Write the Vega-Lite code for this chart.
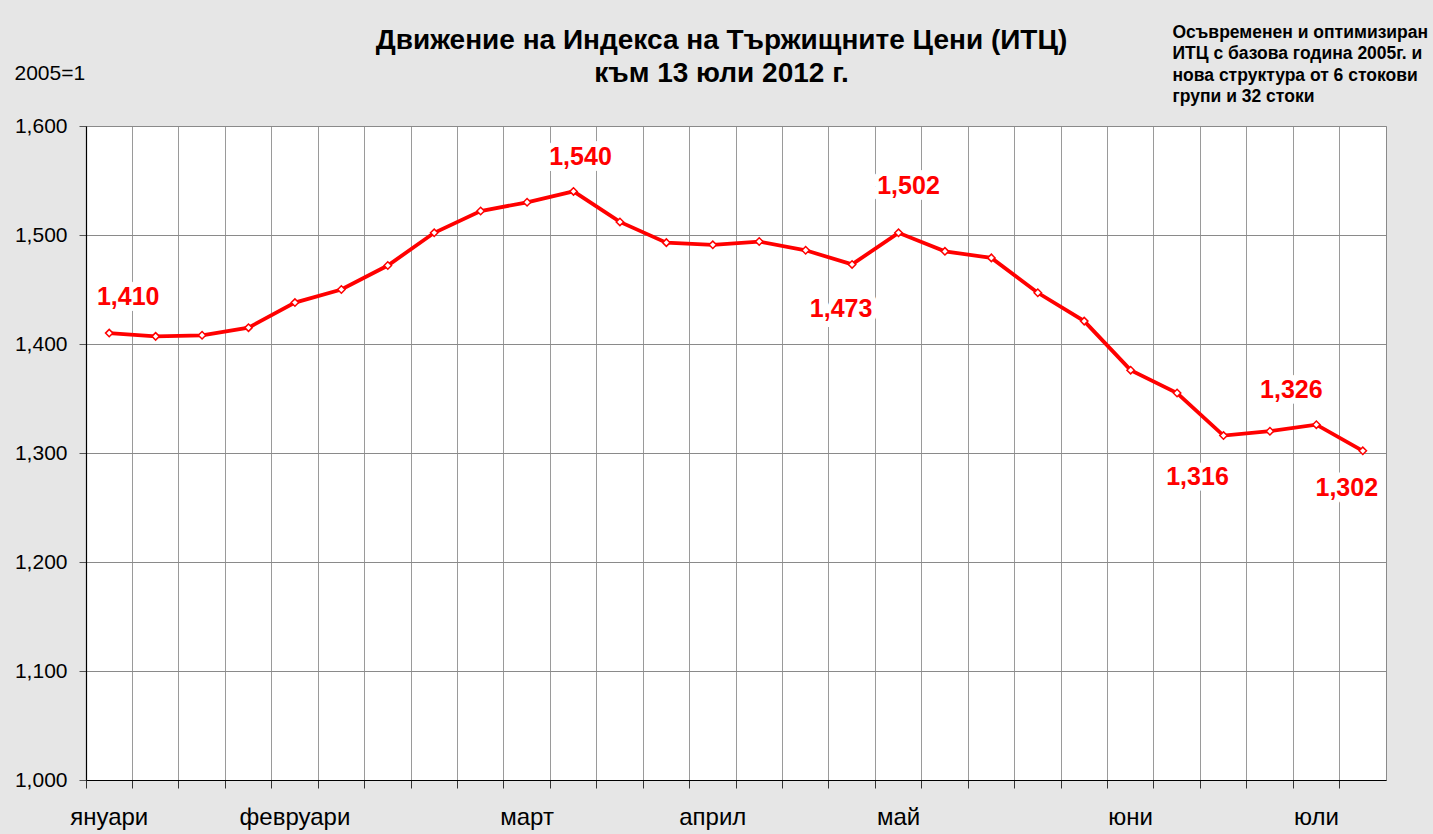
{
  "$schema": "https://vega.github.io/schema/vega-lite/v6.json",
  "autosize": {"type": "none"},
  "padding": {"left": 86, "top": 126, "right": 47, "bottom": 54},
  "width": 1300,
  "height": 654,
  "background": "#e6e6e6",
  "config": {
    "font": "Liberation Sans",
    "view": {"fill": "white", "stroke": "#8a8a8a", "strokeWidth": 1}
  },
  "data": {
    "values": [
      {"w": 1, "v": 1.410}, {"w": 2, "v": 1.407}, {"w": 3, "v": 1.408}, {"w": 4, "v": 1.415},
      {"w": 5, "v": 1.438}, {"w": 6, "v": 1.450}, {"w": 7, "v": 1.472}, {"w": 8, "v": 1.502},
      {"w": 9, "v": 1.522}, {"w": 10, "v": 1.530}, {"w": 11, "v": 1.540}, {"w": 12, "v": 1.512},
      {"w": 13, "v": 1.493}, {"w": 14, "v": 1.491}, {"w": 15, "v": 1.494}, {"w": 16, "v": 1.486},
      {"w": 17, "v": 1.473}, {"w": 18, "v": 1.502}, {"w": 19, "v": 1.485}, {"w": 20, "v": 1.479},
      {"w": 21, "v": 1.447}, {"w": 22, "v": 1.421}, {"w": 23, "v": 1.376}, {"w": 24, "v": 1.355},
      {"w": 25, "v": 1.316}, {"w": 26, "v": 1.320}, {"w": 27, "v": 1.326}, {"w": 28, "v": 1.302}
    ]
  },
  "transform": [{"calculate": "replace(format(datum.v, '.3f'), '.', ',')", "as": "lbl"}],
  "resolve": {"axis": {"x": "independent", "y": "independent"}},
  "layer": [
    {
      "mark": {"type": "line", "color": "#ff0000", "strokeWidth": 3.8},
      "encoding": {
        "x": {
          "field": "w", "type": "ordinal",
          "scale": {"type": "band", "paddingInner": 0, "paddingOuter": 0},
          "axis": {
            "orient": "bottom", "title": null, "bandPosition": 0,
            "grid": true, "gridColor": "#9a9a9a", "gridWidth": 1,
            "domainColor": "#000000", "domainWidth": 1.2,
            "ticks": true, "tickColor": "#333333", "tickSize": 8,
            "labelAngle": 0, "labelPadding": 17,
            "labelFontSize": 24, "labelColor": "#000000", "labelOverlap": false,
            "labelExpr": "datum.value == 1 ? 'януари' : datum.value == 5 ? 'февруари' : datum.value == 10 ? 'март' : datum.value == 14 ? 'април' : datum.value == 18 ? 'май' : datum.value == 23 ? 'юни' : datum.value == 27 ? 'юли' : ''"
          }
        },
        "y": {
          "field": "v", "type": "quantitative",
          "scale": {"domain": [1.0, 1.6], "nice": false, "zero": false},
          "axis": {
            "orient": "left",
            "values": [1.0, 1.1, 1.2, 1.3, 1.4, 1.5, 1.6],
            "grid": true, "gridColor": "#8a8a8a", "gridWidth": 1,
            "domainColor": "#000000", "domainWidth": 1.2,
            "tickColor": "#555555", "tickSize": 7,
            "labelFontSize": 21, "labelColor": "#000000", "labelPadding": 12,
            "labelExpr": "replace(format(datum.value, '.3f'), '.', ',')",
            "title": "2005=1", "titleAngle": 0, "titleAlign": "left", "titleBaseline": "middle",
            "titleX": -72, "titleY": -53, "titleFontSize": 21, "titleFontWeight": "normal", "titleColor": "#000000"
          }
        }
      }
    },
    {
      "mark": {"type": "point", "shape": "diamond", "filled": true, "fill": "white", "stroke": "#ff0000", "strokeWidth": 1.5, "size": 55, "opacity": 1},
      "encoding": {
        "x": {
          "field": "w", "type": "ordinal",
          "axis": {
            "orient": "top", "labels": false, "ticks": false, "domain": false, "grid": false,
            "title": ["Движение на Индекса на Тържищните Цени (ИТЦ)", "към 13 юли 2012 г."],
            "titleAngle": 0, "titleAlign": "center", "titleBaseline": "middle",
            "titleX": 635, "titleY": -86, "titleLineHeight": 33,
            "titleFontSize": 28, "titleFontWeight": "bold", "titleColor": "#000000"
          }
        },
        "y": {
          "field": "v", "type": "quantitative",
          "axis": {
            "orient": "right", "labels": false, "ticks": false, "domain": false, "grid": false,
            "title": ["Осъвременен и оптимизиран", "ИТЦ с базова година 2005г. и", "нова структура от 6 стокови", "групи и 32 стоки"],
            "titleAngle": 0, "titleAlign": "left", "titleBaseline": "middle",
            "titleX": -214, "titleY": -94, "titleLineHeight": 21.5,
            "titleFontSize": 17.5, "titleFontWeight": "bold", "titleColor": "#000000"
          }
        }
      }
    },
    {
      "transform": [{"filter": "datum.w == 1"}],
      "encoding": {"x": {"field": "w", "type": "ordinal", "axis": null}, "y": {"field": "v", "type": "quantitative", "axis": null}, "text": {"field": "lbl"}},
      "layer": [
        {"mark": {"type": "text", "dx": 19, "dy": -36, "fontSize": 25, "fontWeight": "bold", "fill": "white", "stroke": "white", "strokeWidth": 12, "strokeJoin": "round"}},
        {"mark": {"type": "text", "dx": 19, "dy": -36, "fontSize": 25, "fontWeight": "bold", "fill": "#ff0000"}}
      ]
    },
    {
      "transform": [{"filter": "datum.w == 11"}],
      "encoding": {"x": {"field": "w", "type": "ordinal", "axis": null}, "y": {"field": "v", "type": "quantitative", "axis": null}, "text": {"field": "lbl"}},
      "layer": [
        {"mark": {"type": "text", "dx": 7, "dy": -34, "fontSize": 25, "fontWeight": "bold", "fill": "white", "stroke": "white", "strokeWidth": 12, "strokeJoin": "round"}},
        {"mark": {"type": "text", "dx": 7, "dy": -34, "fontSize": 25, "fontWeight": "bold", "fill": "#ff0000"}}
      ]
    },
    {
      "transform": [{"filter": "datum.w == 17"}],
      "encoding": {"x": {"field": "w", "type": "ordinal", "axis": null}, "y": {"field": "v", "type": "quantitative", "axis": null}, "text": {"field": "lbl"}},
      "layer": [
        {"mark": {"type": "text", "dx": -11, "dy": 45, "fontSize": 25, "fontWeight": "bold", "fill": "white", "stroke": "white", "strokeWidth": 12, "strokeJoin": "round"}},
        {"mark": {"type": "text", "dx": -11, "dy": 45, "fontSize": 25, "fontWeight": "bold", "fill": "#ff0000"}}
      ]
    },
    {
      "transform": [{"filter": "datum.w == 18"}],
      "encoding": {"x": {"field": "w", "type": "ordinal", "axis": null}, "y": {"field": "v", "type": "quantitative", "axis": null}, "text": {"field": "lbl"}},
      "layer": [
        {"mark": {"type": "text", "dx": 10, "dy": -47, "fontSize": 25, "fontWeight": "bold", "fill": "white", "stroke": "white", "strokeWidth": 12, "strokeJoin": "round"}},
        {"mark": {"type": "text", "dx": 10, "dy": -47, "fontSize": 25, "fontWeight": "bold", "fill": "#ff0000"}}
      ]
    },
    {
      "transform": [{"filter": "datum.w == 25"}],
      "encoding": {"x": {"field": "w", "type": "ordinal", "axis": null}, "y": {"field": "v", "type": "quantitative", "axis": null}, "text": {"field": "lbl"}},
      "layer": [
        {"mark": {"type": "text", "dx": -26, "dy": 41, "fontSize": 25, "fontWeight": "bold", "fill": "white", "stroke": "white", "strokeWidth": 12, "strokeJoin": "round"}},
        {"mark": {"type": "text", "dx": -26, "dy": 41, "fontSize": 25, "fontWeight": "bold", "fill": "#ff0000"}}
      ]
    },
    {
      "transform": [{"filter": "datum.w == 27"}],
      "encoding": {"x": {"field": "w", "type": "ordinal", "axis": null}, "y": {"field": "v", "type": "quantitative", "axis": null}, "text": {"field": "lbl"}},
      "layer": [
        {"mark": {"type": "text", "dx": -25, "dy": -35, "fontSize": 25, "fontWeight": "bold", "fill": "white", "stroke": "white", "strokeWidth": 12, "strokeJoin": "round"}},
        {"mark": {"type": "text", "dx": -25, "dy": -35, "fontSize": 25, "fontWeight": "bold", "fill": "#ff0000"}}
      ]
    },
    {
      "transform": [{"filter": "datum.w == 28"}],
      "encoding": {"x": {"field": "w", "type": "ordinal", "axis": null}, "y": {"field": "v", "type": "quantitative", "axis": null}, "text": {"field": "lbl"}},
      "layer": [
        {"mark": {"type": "text", "dx": -16, "dy": 37, "fontSize": 25, "fontWeight": "bold", "fill": "white", "stroke": "white", "strokeWidth": 12, "strokeJoin": "round"}},
        {"mark": {"type": "text", "dx": -16, "dy": 37, "fontSize": 25, "fontWeight": "bold", "fill": "#ff0000"}}
      ]
    }
  ]
}
